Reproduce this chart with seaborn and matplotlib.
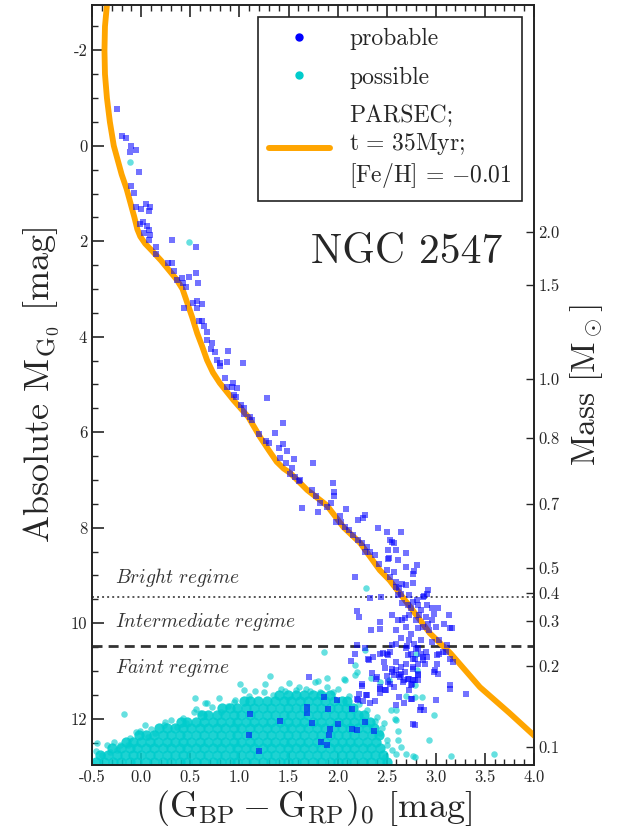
import matplotlib
matplotlib.use("Agg")
import matplotlib.pyplot as plt
from matplotlib.lines import Line2D
from matplotlib.ticker import MultipleLocator, FormatStrFormatter
import pandas as pd
import seaborn as sns

# PARSEC isochrone (colour, abs. mag)
iso_bprp = [-0.35, -0.37, -0.375, -0.37, -0.35, -0.32, -0.28, -0.24, -0.20, -0.15, -0.11,
            -0.07, -0.04, -0.01, 0.04, 0.11, 0.20, 0.28, 0.36, 0.42, 0.47, 0.52, 0.57, 0.62,
            0.67, 0.73, 0.80, 0.94, 1.09, 1.21, 1.30, 1.38, 1.45, 1.52, 1.69, 1.89, 2.06,
            2.23, 2.43, 2.53, 2.74, 2.94, 3.15, 3.45, 3.75, 4.0, 4.1]
iso_mg = [-2.95, -2.5, -2.0, -1.5, -1.0, -0.5, 0.0, 0.3, 0.6, 0.9, 1.2,
          1.5, 1.75, 1.9, 2.05, 2.2, 2.4, 2.6, 2.8, 3.0, 3.3, 3.6, 3.93, 4.2,
          4.49, 4.75, 4.97, 5.33, 5.68, 6.10, 6.38, 6.62, 6.76, 6.86, 7.21, 7.53, 7.99,
          8.32, 8.89, 9.10, 9.66, 10.21, 10.63, 11.34, 11.88, 12.35, 12.55]

# probable members (colour, abs. mag)
probable_pts = [
    (-0.25, -0.77), (-0.20, -0.20), (-0.16, -0.16), (-0.12, 0.14), (-0.10, 0.0), (-0.05, 0.08),
    (-0.02, 0.55), (-0.10, 0.85), (-0.07, 0.98), (-0.05, 1.28), (0.0, 1.32), (0.05, 1.22),
    (0.09, 1.29), (0.08, 1.36), (-0.01, 1.64), (0.02, 1.59), (0.06, 1.68), (0.08, 1.76),
    (0.03, 1.82), (0.09, 1.87), (0.08, 1.97), (0.15, 2.12), (0.15, 2.26), (0.31, 1.98),
    (0.56, 2.12), (0.27, 2.45), (0.31, 2.46), (0.33, 2.63), (0.36, 2.81), (0.41, 2.77),
    (0.42, 2.88), (0.46, 2.95), (0.49, 2.75), (0.56, 2.67), (0.58, 2.88), (0.44, 3.39),
    (0.53, 3.30), (0.57, 3.26), (0.62, 3.31), (0.57, 3.40), (0.59, 3.66), (0.62, 3.66),
    (0.64, 3.77), (0.67, 3.89), (0.67, 4.07), (0.72, 4.14), (0.71, 4.26), (0.75, 4.31),
    (0.88, 4.29), (0.77, 4.49), (0.80, 4.54), (0.87, 4.53), (1.04, 4.56), (0.80, 4.62),
    (0.85, 4.86), (0.87, 5.05), (0.93, 4.96), (0.92, 5.06), (0.98, 5.07), (0.94, 5.21),
    (0.96, 5.27), (1.28, 5.29), (1.02, 5.43), (1.05, 5.49), (1.11, 5.68), (1.05, 5.61),
    (1.13, 5.74), (1.44, 5.80), (1.20, 6.04), (1.36, 6.02), (1.27, 6.18), (1.30, 6.22),
    (1.40, 6.32), (1.44, 6.25), (1.48, 6.40), (1.41, 6.53), (1.47, 6.64), (1.56, 6.57),
    (1.75, 6.64), (1.54, 6.74), (1.52, 6.88), (1.57, 6.93), (1.62, 7.00), (1.61, 7.03),
    (1.95, 7.06), (1.96, 7.26), (1.96, 7.33), (1.74, 7.21), (1.78, 7.34), (1.82, 7.48),
    (1.93, 7.49), (1.64, 7.58), (1.80, 7.68), (1.89, 7.56), (2.09, 7.60), (2.02, 7.76),
    (1.98, 7.88), (2.03, 7.89), (2.08, 7.98), (2.12, 8.05), (2.21, 7.84), (2.26, 7.79),
    (2.28, 7.74), (2.41, 8.00), (2.16, 8.16), (2.21, 8.26), (2.25, 8.33), (2.30, 8.40),
    (2.33, 8.50), (2.28, 8.50), (2.38, 8.57), (2.42, 8.75), (2.18, 9.03), (2.50, 8.10),
    (2.65, 8.10), (2.53, 8.25), (2.57, 8.33), (2.60, 8.46), (2.51, 8.47), (2.70, 8.54),
    (2.51, 8.66), (2.62, 8.68), (2.81, 8.78), (2.70, 8.82), (2.50, 8.89), (2.57, 8.92),
    (2.53, 9.03), (2.77, 8.96), (2.78, 8.90), (2.77, 9.15), (2.70, 9.20), (2.60, 9.24),
    (2.33, 9.48), (2.44, 9.45), (2.62, 9.41), (2.92, 9.31), (2.87, 9.45), (2.81, 9.52),
    (2.91, 9.62), (2.20, 9.75), (2.22, 9.87), (2.55, 9.83), (2.66, 9.94), (2.98, 9.80),
    (3.02, 9.69), (3.13, 9.83), (3.08, 10.01), (3.15, 10.11), (2.34, 10.15), (2.43, 10.13),
    (2.59, 10.15), (3.00, 10.08), (2.92, 10.01), (2.70, 10.08), (2.60, 10.43), (2.20, 10.45),
    (2.28, 10.53), (2.18, 10.64), (2.14, 10.80), (2.32, 10.78), (2.43, 10.64), (2.50, 10.64),
    (2.53, 10.60), (2.47, 10.81), (2.35, 11.04), (2.40, 11.12), (2.50, 11.10), (2.55, 11.02),
    (2.60, 10.99), (2.64, 11.12), (2.69, 11.02), (2.53, 11.27), (2.43, 11.33), (2.48, 11.40),
    (2.25, 11.28), (2.22, 11.48), (2.29, 11.51), (2.20, 11.58), (2.59, 11.72), (2.79, 12.14),
    (2.88, 11.82), (2.76, 11.58), (3.00, 11.61), (3.15, 11.37), (3.31, 11.48), (2.76, 11.27),
    (2.79, 11.19), (3.18, 10.81), (3.15, 10.76), (3.03, 10.64), (3.07, 10.60), (3.11, 10.46),
    (3.01, 10.85), (2.98, 11.02), (2.82, 11.06), (2.72, 11.16), (2.77, 10.92), (2.87, 10.78),
    (2.91, 10.71), (2.85, 10.64), (2.75, 10.64), (2.77, 10.75), (2.80, 10.55), (2.71, 10.48),
    (2.55, 8.29), (2.52, 8.64), (2.59, 9.13), (2.66, 9.17), (2.63, 9.27), (2.65, 9.38),
    (2.73, 9.40), (2.91, 9.38), (2.88, 9.43), (2.77, 9.55), (2.82, 9.62), (2.72, 9.62),
    (2.66, 9.58), (2.75, 9.69), (2.85, 9.73), (2.96, 9.69), (2.62, 9.94), (2.69, 9.90),
    (2.73, 9.83), (2.80, 9.94), (2.83, 9.83), (2.90, 9.87), (2.96, 9.94), (2.43, 9.97),
    (2.75, 10.22), (2.82, 10.11), (2.87, 10.08), (2.93, 10.15), (3.17, 10.11), (2.65, 10.32),
    (2.73, 10.36), (2.78, 10.43), (2.85, 10.36), (2.96, 10.39), (3.03, 10.36), (2.55, 10.45),
    (2.70, 10.53), (2.82, 10.53), (2.90, 10.60), (2.87, 10.71), (2.79, 10.74), (2.72, 10.67),
    (3.01, 10.67), (3.10, 10.60), (2.36, 10.71), (2.60, 10.81), (2.70, 10.85), (2.82, 10.85),
    (2.89, 10.85), (2.77, 10.95), (2.65, 10.92), (2.55, 10.95), (2.48, 10.94), (2.57, 11.09),
    (2.63, 11.09), (2.82, 11.09), (2.99, 10.99), (3.02, 11.06), (2.73, 11.16), (2.67, 11.23),
    (2.82, 11.19), (2.75, 11.30), (3.15, 11.30),
    (1.11, 11.90), (1.10, 12.35), (1.20, 12.68), (1.41, 12.04), (1.69, 11.76), (1.69, 11.89),
    (1.74, 12.09), (1.71, 11.12), (1.83, 12.49), (1.89, 12.56), (1.91, 12.35), (1.92, 12.22),
    (1.90, 11.80), (2.00, 12.12), (2.15, 11.79), (2.15, 12.21), (2.20, 12.23), (2.28, 12.07),
    (2.37, 12.26), (2.21, 11.60), (2.26, 11.64), (2.30, 11.51), (2.33, 11.68), (2.25, 11.31),
    (1.86, 11.54), (1.99, 11.61), (2.38, 11.64), (2.31, 10.74), (2.39, 11.16), (2.43, 11.37),
    (2.43, 11.47), (2.49, 11.40), (2.51, 11.23), (2.57, 11.33), (2.65, 11.06), (2.68, 11.20),
    (2.63, 11.54), (2.68, 11.68), (2.73, 11.40), (2.75, 11.58), (2.77, 11.20), (2.84, 11.82),
    (2.85, 11.75), (2.77, 12.12), (2.46, 10.62), (2.51, 10.67),
]

# possible members, scattered stars
possible_pts = [
    (-0.12, 0.33), (0.49, 2.02), (2.29, 9.27), (1.86, 10.60), (2.18, 10.87), (2.20, 11.03),
    (2.34, 11.14), (2.28, 10.57), (2.07, 11.16), (2.43, 11.23), (2.52, 11.19), (2.79, 11.30),
    (2.80, 10.65), (2.81, 10.99), (2.60, 11.82), (2.70, 11.53), (2.79, 11.55), (2.86, 11.55),
    (2.98, 11.93), (2.62, 12.45), (2.65, 12.59), (2.60, 12.73), (2.77, 12.79), (3.16, 12.79),
    (3.59, 12.73), (2.93, 12.45), (2.62, 12.26), (2.58, 12.0), (2.70, 12.73), (2.79, 12.80),
    (1.31, 11.11), (1.50, 11.25), (1.26, 11.28), (1.80, 11.21), (1.89, 11.15), (2.18, 11.09),
    (1.01, 11.27), (1.77, 11.23), (1.89, 11.33), (1.68, 11.37), (2.08, 11.19), (2.00, 11.37),
    (1.61, 11.34), (1.46, 11.42), (1.16, 11.41), (1.05, 11.40), (0.94, 11.65), (1.34, 11.51),
    (1.82, 11.44), (-0.46, 12.68), (-0.45, 12.52), (-0.40, 12.77), (-0.32, 12.70),
    (-0.25, 12.66), (-0.22, 12.56), (-0.18, 11.91), (-0.12, 12.40), (-0.14, 12.56),
    (-0.01, 12.26), (0.04, 12.14), (0.07, 12.38), (0.14, 12.31), (0.24, 12.07), (0.23, 12.14),
    (0.36, 12.17), (0.46, 12.09), (0.55, 11.56), (0.67, 11.68), (0.56, 11.80), (0.54, 11.85),
    (0.79, 11.56), (0.81, 11.85), (0.88, 11.73), (0.65, 11.68), (2.50, 12.45), (2.55, 12.66),
    (2.43, 12.31), (2.60, 12.03), (2.47, 12.10), (2.40, 11.96), (2.54, 11.82),
    (-0.35, 12.55), (-0.28, 12.48), (-0.05, 12.28), (0.10, 12.22), (0.30, 12.02), (0.42, 11.98),
    (0.60, 11.88), (0.72, 11.75), (0.95, 11.60), (1.10, 11.52), (1.25, 11.45), (1.42, 11.38),
    (1.58, 11.40), (1.72, 11.42), (1.95, 11.45), (2.12, 11.52), (2.22, 11.70), (2.30, 11.82),
    (2.38, 12.05), (2.45, 12.20), (2.50, 12.55), (2.48, 12.80),
]

# possible members, dense faint clump: one list of colours per magnitude row
core_rows_mg = [12.90, 12.76, 12.62, 12.48, 12.34, 12.20, 12.06, 11.92, 11.78, 11.64, 11.50]
core_rows_bprp = [
    [-0.46, -0.38, -0.29, -0.21, -0.12, -0.04, 0.05, 0.13, 0.22, 0.30, 0.39, 0.47, 0.56, 0.64,
     0.73, 0.81, 0.90, 0.98, 1.07, 1.15, 1.24, 1.32, 1.41, 1.49, 1.58, 1.66, 1.75, 1.83, 1.92,
     2.00, 2.09, 2.17, 2.26, 2.34, 2.43, 2.50],
    [-0.42, -0.34, -0.25, -0.17, -0.08, 0.0, 0.09, 0.17, 0.26, 0.34, 0.43, 0.51, 0.60, 0.68,
     0.77, 0.85, 0.94, 1.02, 1.11, 1.19, 1.28, 1.36, 1.45, 1.53, 1.62, 1.70, 1.79, 1.87, 1.96,
     2.04, 2.13, 2.21, 2.30, 2.38, 2.46],
    [-0.30, -0.21, -0.12, -0.04, 0.05, 0.13, 0.22, 0.30, 0.39, 0.47, 0.56, 0.64, 0.73, 0.81,
     0.90, 0.98, 1.07, 1.15, 1.24, 1.32, 1.41, 1.49, 1.58, 1.66, 1.75, 1.83, 1.92, 2.00, 2.09,
     2.17, 2.26, 2.34, 2.43],
    [-0.16, -0.08, 0.0, 0.09, 0.17, 0.26, 0.34, 0.43, 0.51, 0.60, 0.68, 0.77, 0.85, 0.94, 1.02,
     1.11, 1.19, 1.28, 1.36, 1.45, 1.53, 1.62, 1.70, 1.79, 1.87, 1.96, 2.04, 2.13, 2.21, 2.30,
     2.39],
    [-0.02, 0.05, 0.13, 0.22, 0.30, 0.39, 0.47, 0.56, 0.64, 0.73, 0.81, 0.90, 0.98, 1.07, 1.15,
     1.24, 1.32, 1.41, 1.49, 1.58, 1.66, 1.75, 1.83, 1.92, 2.00, 2.09, 2.17, 2.26, 2.35, 2.42],
    [0.18, 0.26, 0.34, 0.43, 0.51, 0.60, 0.68, 0.77, 0.85, 0.94, 1.02, 1.11, 1.19, 1.28, 1.36,
     1.45, 1.53, 1.62, 1.70, 1.79, 1.87, 1.96, 2.04, 2.13, 2.21, 2.30, 2.37],
    [0.40, 0.47, 0.56, 0.64, 0.73, 0.81, 0.90, 0.98, 1.07, 1.15, 1.24, 1.32, 1.41, 1.49, 1.58,
     1.66, 1.75, 1.83, 1.92, 2.00, 2.09, 2.17, 2.26, 2.33],
    [0.62, 0.68, 0.77, 0.85, 0.94, 1.02, 1.11, 1.19, 1.28, 1.36, 1.45, 1.53, 1.62, 1.70, 1.79,
     1.87, 1.96, 2.04, 2.13, 2.21, 2.27],
    [0.82, 0.90, 0.98, 1.07, 1.15, 1.24, 1.32, 1.41, 1.49, 1.58, 1.66, 1.75, 1.83, 1.92, 2.00,
     2.09, 2.16],
    [1.05, 1.11, 1.19, 1.28, 1.36, 1.45, 1.53, 1.62, 1.70, 1.79, 1.87, 1.96, 2.04, 2.10],
    [1.40, 1.49, 1.58, 1.66, 1.75, 1.83, 1.92],
]

# right axis: mass labels and the magnitude where each tick sits
mass_labels = ["2.0", "1.5", "1.0", "0.8", "0.7", "0.5", "0.4", "0.3", "0.2", "0.1"]
mass_tick_mg = [1.80, 2.91, 4.88, 6.12, 7.51, 8.85, 9.36, 9.95, 10.90, 12.59]

regime_names = ["Bright regime", "Intermediate regime", "Faint regime"]
regime_text_mg = [9.04, 9.98, 10.94]
bright_limit = 9.45
faint_limit = 10.47

sns.set_style("ticks")
plt.rcParams["font.family"] = ["cmr10"]
plt.rcParams["mathtext.fontset"] = "cm"
plt.rcParams["axes.unicode_minus"] = False
plt.rcParams["axes.formatter.use_mathtext"] = False

iso_df = pd.DataFrame({"bprp": iso_bprp, "mg": iso_mg})
prob_df = pd.DataFrame(probable_pts, columns=["bprp", "mg"])
poss_df = pd.DataFrame(possible_pts, columns=["bprp", "mg"])
core_list = []
for row_mg, row_x in zip(core_rows_mg, core_rows_bprp):
    for bx in row_x:
        core_list.append((bx, row_mg))
core_df = pd.DataFrame(core_list, columns=["bprp", "mg"])

fig = plt.figure(figsize=(6.23, 8.27), dpi=100)
ax = fig.add_axes([0.148, 0.075, 0.709, 0.919])

cyan = "#00CCCC"
sns.scatterplot(data=core_df, x="bprp", y="mg", ax=ax, color=cyan, s=55, alpha=0.88,
                linewidth=0, marker="o", zorder=2)
sns.scatterplot(data=poss_df, x="bprp", y="mg", ax=ax, color=cyan, s=22, alpha=0.6,
                linewidth=0, marker="o", zorder=2)
sns.lineplot(data=iso_df, x="bprp", y="mg", ax=ax, sort=False, estimator=None,
             color="orange", lw=4.2, zorder=3)
sns.scatterplot(data=prob_df, x="bprp", y="mg", ax=ax, color="blue", s=18, alpha=0.55,
                linewidth=0, marker="s", zorder=4)

ax.axhline(bright_limit, color="#555555", lw=1.4, ls=(0, (1, 1.6)), zorder=1)
ax.axhline(faint_limit, color="#333333", lw=2.0, ls=(0, (3.6, 2.2)), zorder=1)
for name, mg in zip(regime_names, regime_text_mg):
    ax.text(-0.27, mg, r"$\mathit{" + name.replace(" ", r"\ ") + "}$", fontsize=14,
            color="#333333", va="center", ha="left")

ax.text(2.70, 2.22, "NGC 2547", fontsize=30, ha="center", va="center")

ax.set_xlim(-0.5, 4.0)
ax.set_ylim(12.97, -2.95)
ax.xaxis.set_major_locator(MultipleLocator(0.5))
ax.xaxis.set_minor_locator(MultipleLocator(0.1))
ax.yaxis.set_major_locator(MultipleLocator(2))
ax.yaxis.set_minor_locator(MultipleLocator(0.5))
ax.xaxis.set_major_formatter(FormatStrFormatter("%.1f"))
ax.yaxis.set_major_formatter(FormatStrFormatter("%d"))
ax.tick_params(which="both", direction="in", top=True, right=False, labelsize=12)
ax.tick_params(which="major", length=8.5, width=1.2)
ax.tick_params(which="minor", length=4.5, width=1.0)
ax.set_xlabel(r"$\mathrm{(G_{BP} - G_{RP})_0}$ [mag]", fontsize=26, labelpad=2)
ax.set_ylabel(r"Absolute $\mathrm{M_{G_0}}$ [mag]", fontsize=26, labelpad=6)
for sp in ax.spines.values():
    sp.set_linewidth(1.2)
    sp.set_color("#222222")

ax2 = ax.twinx()
ax2.set_ylim(ax.get_ylim())
ax2.set_yticks(mass_tick_mg)
ax2.set_yticklabels(mass_labels)
ax2.tick_params(axis="y", direction="in", length=6, width=1.0, labelsize=12, pad=3)
ax2.set_ylabel(r"Mass [$\mathrm{M_\odot}$]", fontsize=24, labelpad=6)
for sp in ax2.spines.values():
    sp.set_linewidth(1.2)
    sp.set_color("#222222")

handles = [
    Line2D([], [], ls="", marker="o", ms=5, color="blue"),
    Line2D([], [], ls="", marker="o", ms=5, color="#00CCCC"),
    Line2D([], [], color="orange", lw=4.3),
]
labels = ["probable", "possible",
          "PARSEC;\n$\\mathrm{t\\,=\\,35Myr;}$\n$\\mathrm{[Fe/H]\\,=\\,{-}0.01}$"]
leg = ax.legend(handles, labels, loc="upper right", bbox_to_anchor=(0.973, 0.984),
                borderaxespad=0, fontsize=17, frameon=True, fancybox=False,
                framealpha=1, edgecolor="#222222", handlelength=2.6,
                handletextpad=0.8, labelspacing=0.7, borderpad=0.45)
leg.get_frame().set_linewidth(1.2)
leg.set_zorder(10)

fig.savefig("out.png", dpi=100)
